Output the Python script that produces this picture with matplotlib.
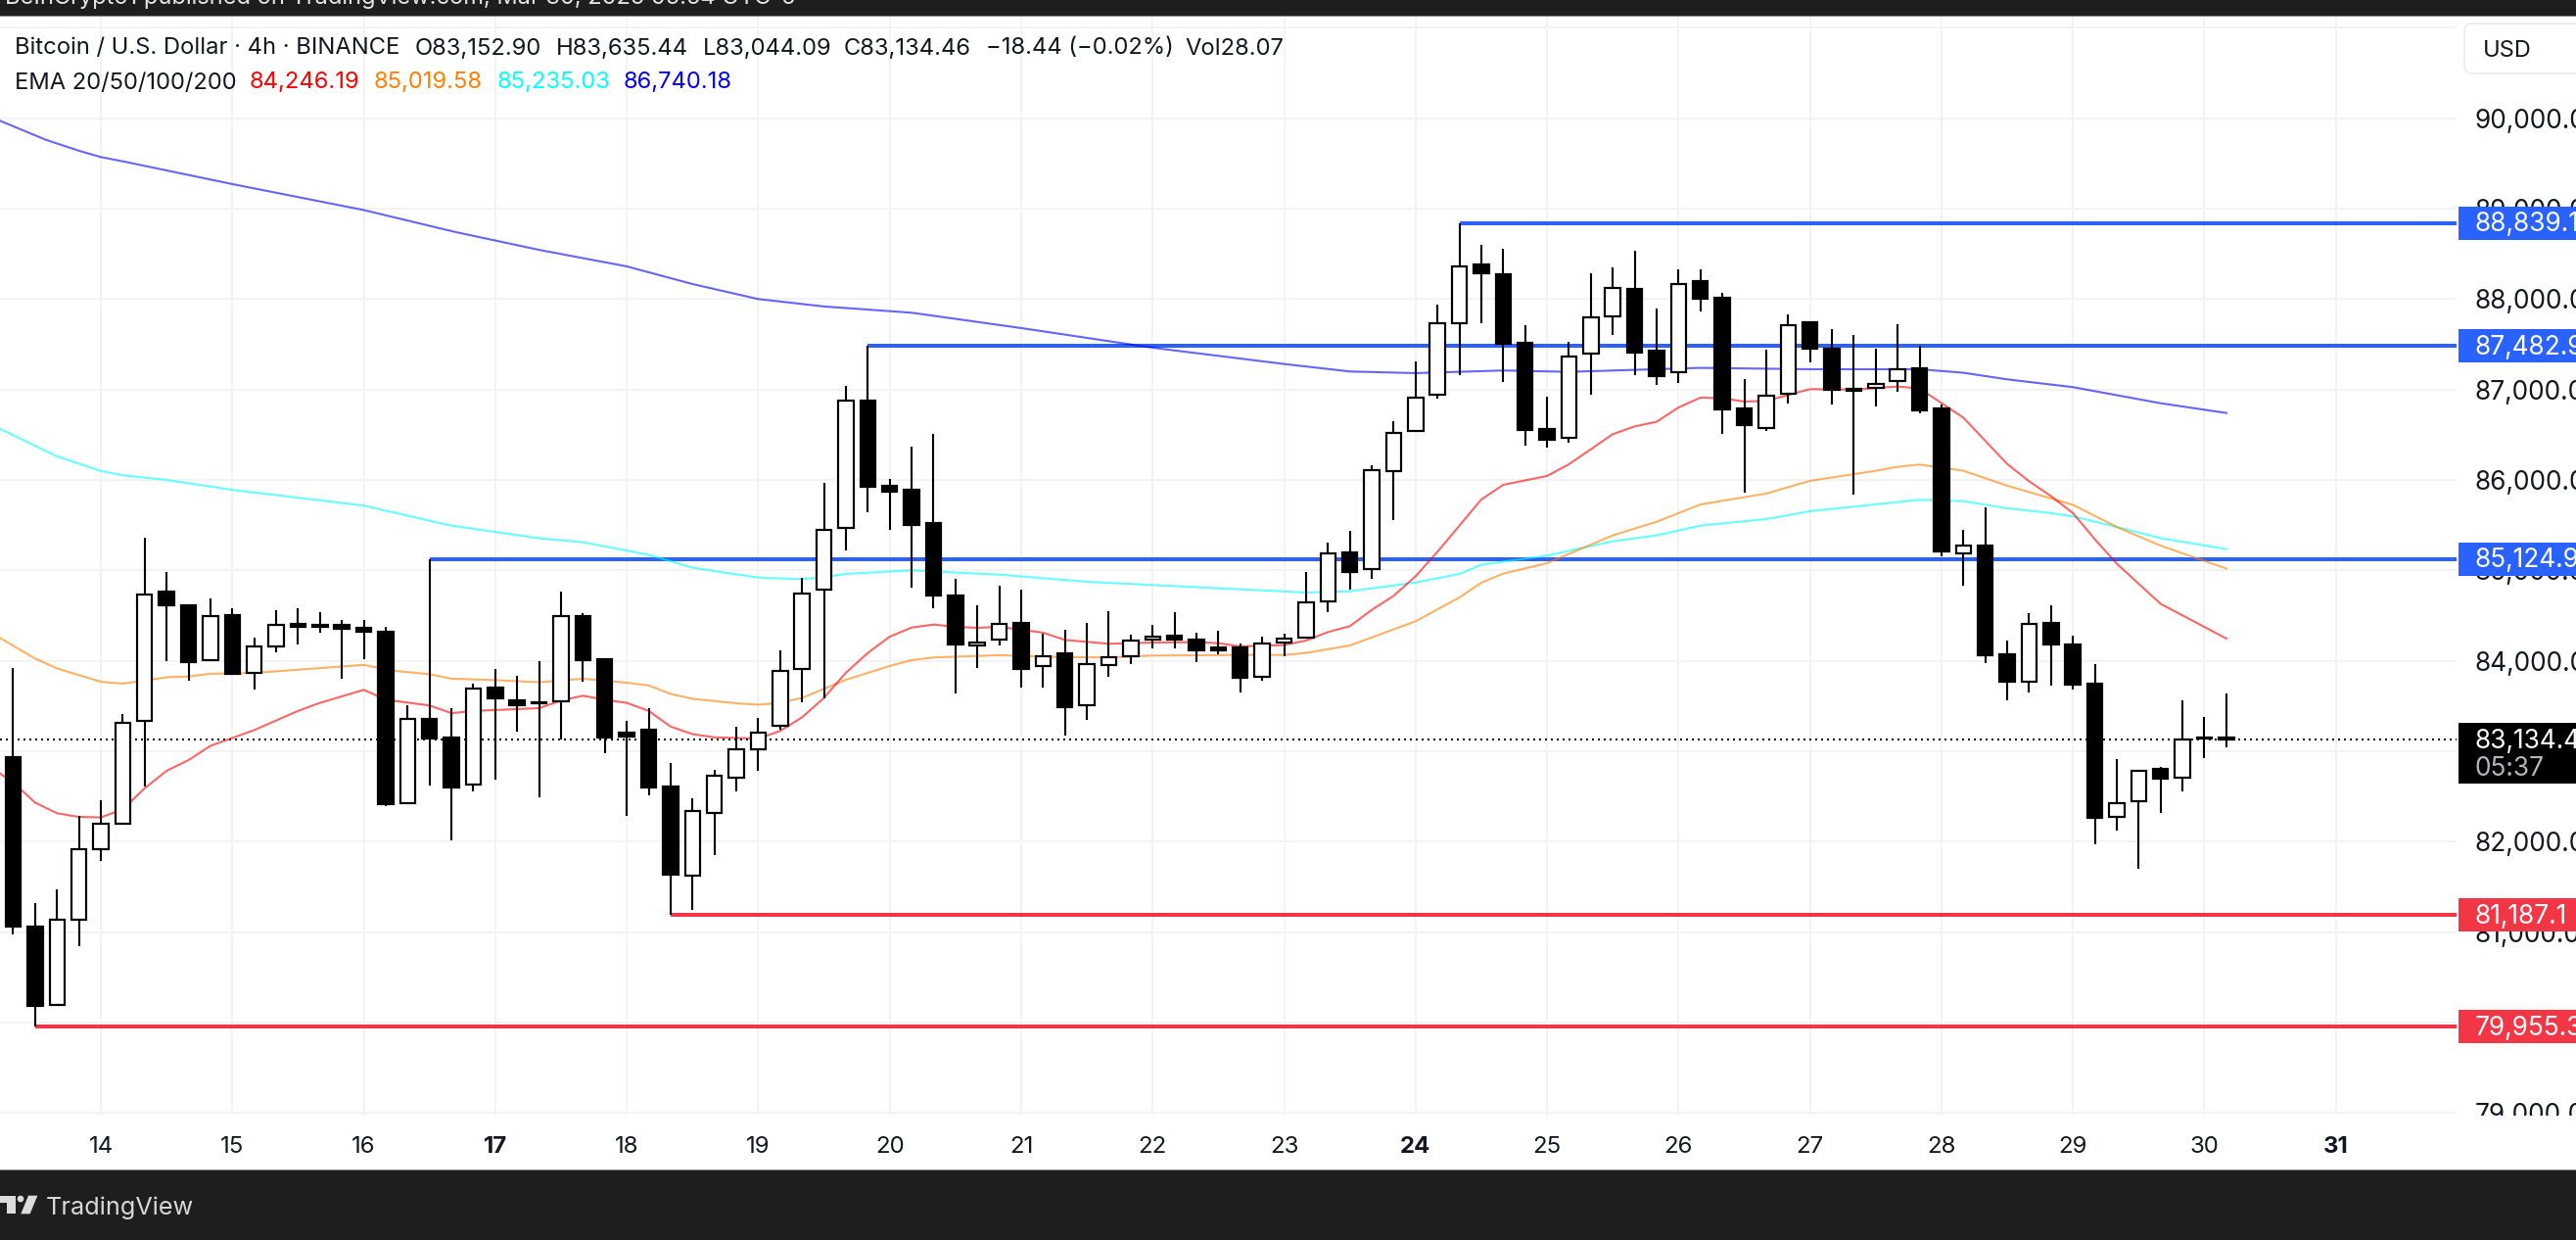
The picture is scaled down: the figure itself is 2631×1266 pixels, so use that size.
import numpy as np
import matplotlib
matplotlib.use("Agg")
import matplotlib.pyplot as plt
from matplotlib.patches import Rectangle, Polygon, Circle, FancyBboxPatch

plt.rcParams['font.family'] = ['Inter', 'DejaVu Sans']

# ---------- data ----------
candle_pos = list(range(-4, 98))   # 4h candles, 0 = 14 March 00:00
opens = [82937,81058,80192,81137,81918,82200,83332,84766,84618,84005,84504,83866,84163,84405,84396,84396,84366,84321,82423,83352,83150,82630,83703,83565,83545,83550,84495,84020,83204,83238,82610,81621,82319,82704,83021,83283,83911,84784,85470,86874,85932,85888,85520,84719,84166,84235,84415,83943,84080,83506,83953,84051,84231,84275,84231,84145,84145,83823,84199,84257,84657,85195,85015,86094,86542,86939,87733,88383,88275,87513,86560,86462,87394,87805,88112,87430,87192,88199,88015,86791,86571,86953,87744,87451,87008,87018,87091,87235,86791,85184,85275,84070,83768,84419,84178,83747,82272,82446,82806,82703,83140,83152.90]
highs = [83916,81320,81478,82284,82457,83412,85360,84984,84623,84687,84584,84252,84559,84584,84539,84455,84450,84371,83510,85125,83481,83743,83911,83832,83995,84766,84524,84025,83337,83481,82873,82482,82798,83273,83367,84114,84915,85964,87036,87483,86011,86368,86506,84906,84614,84831,84787,84304,84343,84419,84549,84286,84397,84538,84311,84332,84188,84267,84300,84982,85307,85434,86159,86650,87311,87939,88839,88599,88556,87711,86921,87527,88285,88350,88535,87896,88329,88329,88069,87116,87441,87831,87755,87668,87603,87451,87722,87484,86831,85448,85697,84224,84526,84613,84278,83963,82914,82794,82823,83561,83378,83635.44]
lows = [80974,79955,80188,80840,81790,82200,82606,84000,83777,84005,83857,83679,84099,84178,84312,83802,84020,82398,82423,82625,82012,82556,82685,83219,82492,83130,83768,82976,82284,82512,81187,81246,81854,82556,82784,83234,83540,83589,85220,85647,85452,84813,84585,83643,83925,84170,83708,83708,83177,83351,83827,83968,84138,84138,83986,84073,83654,83780,84051,84257,84538,84787,84906,85560,86542,86903,87163,87733,87083,86379,86358,86415,86946,87603,87163,87051,87072,87863,86509,85859,86542,86845,87300,86834,85838,86813,86975,86737,85156,84831,83975,83561,83648,83731,83681,81969,82122,81704,82317,82553,82922,83044.09]
closes = [81058,80188,81132,81913,82195,83318,84737,84618,83990,84499,83857,84163,84401,84371,84371,84356,84316,82418,83352,83140,82601,83698,83585,83510,83530,84490,84005,83150,83164,82601,81631,82334,82724,83026,83209,83891,84747,85452,86874,85928,85874,85506,84726,84184,84206,84412,83914,84055,83491,83968,84044,84228,84271,84239,84120,84120,83816,84195,84249,84650,85192,84986,86109,86524,86914,87733,88365,88289,87506,86556,86448,87368,87802,88127,87412,87152,88170,88007,86780,86607,86935,87715,87455,86997,86989,87065,87228,86769,85213,85278,84065,83764,84410,84178,83739,82267,82429,82786,82699,83134,83153,83134.46]

ema20_x = [-4.6,-4,-3,-2,-1,0,1,2,3,4,5,7,9,10,12,13,15,16,17,20,21,22,23,24,25,26,27,28,30,31,32,33,34,35,36,37,38,39,40,41,43,44,46,48,50,51,52,54,55,56,57,58,59,60,61,62,63,64,66,67,69,70,71,72,73,74,75,76,77,78,80,82,83,85,87,88,89,90,91,92,94,97]
ema20_y = [82754,82655,82432,82314,82274,82269,82358,82591,82784,82902,83060,83234,83446,83535,83679,83570,83506,83421,83446,83476,83560,83614,83570,83535,83446,83273,83189,83154,83140,83224,83375,83590,83868,84087,84267,84368,84401,84376,84365,84376,84311,84231,84188,84202,84206,84195,84159,84174,84224,84318,84383,84563,84719,84935,85206,85495,85784,85946,86044,86174,86506,86592,86643,86802,86910,86903,86867,86874,86939,87004,87000,87033,87011,86688,86176,85985,85820,85633,85343,85074,84630,84246.19]
ema50_x = [-4.6,-3,-2,0,1,3,4,5,7,12,13.3,15,16,18,20,22,24,25,26,27,29,30,31,32,33,34,36,37,38,41,44,46,48,52,54,55,57,60,62,63,64,66,69,71,73,76,78,81,82,83,85,87,90,92,94,97]
ema50_y = [84252,84025,83916,83768,83748,83817,83827,83857,83866,83955,83891,83852,83802,83787,83763,83802,83758,83728,83634,83580,83530,83515,83535,83590,83690,83790,83943,84008,84037,84062,84040,84037,84058,84065,84065,84087,84170,84437,84701,84863,84964,85080,85387,85538,85729,85849,85990,86101,86145,86170,86101,85936,85724,85480,85273,85019.58]
ema100_x = [-4.6,-2,0,1,3,6,12,15.9,20,22,25,27,30,32,33,34,37,41,45,48,52,55,57,60,62,63,66,69,71,73,76,78,81,83,85,87,89,90,92,94,97]
ema100_y = [86564,86260,86099,86051,86000,85890,85716,85498,85355,85311,85172,85029,84920,84902,84925,84961,85000,84953,84874,84838,84791,84755,84769,84866,84961,85062,85163,85322,85387,85495,85567,85654,85730,85780,85765,85687,85633,85596,85480,85356,85235.03]
ema200_x = [-4.6,-2.5,-1,0,1,6,12,16.2,20,24,27,30,33,37,42,48,54,57,60,64,67,73,78,83,85,87,90,94,97]
ema200_y = [89971,89760,89640,89570,89523,89271,88984,88740,88544,88361,88166,88000,87918,87849,87679,87462,87282,87199,87181,87210,87195,87239,87224,87224,87185,87112,87026,86848,86740.18]

level_prices = [88839.1, 87482.9, 85124.9, 81187.1, 79955.3]
level_start = [62, 35, 15, 26, -3]
level_colors = ['#2962ff', '#2962ff', '#2962ff', '#f23645', '#f23645']
level_labels = ['88,839.1', '87,482.9', '85,124.9', '81,187.1', '79,955.3']

price_ticks = [91000, 90000, 89000, 88000, 87000, 86000, 85000, 84000, 83000, 82000, 81000, 80000, 79000]
day_positions = list(range(0, 103, 6))
day_labels = ['14','15','16','17','18','19','20','21','22','23','24','25','26','27','28','29','30','31']
bold_days = ['17', '24', '31']
last_price = 83134.46
last_label = '83,134.4'

# ---------- layout ----------
W, H = 2631, 1266
PX = 72 / 100
fig = plt.figure(figsize=(W / 100, H / 100), dpi=100, facecolor='white')
GRID = '#f2f3f4'
INK = '#131722'
DARK = '#1e1e1e'

def fx(x): return x / W
def fy(y): return 1 - y / H

PANE_R, PANE_T, PANE_B = 2509, 16, 1139
SCALE = 10.83        # price units per pixel
YTOP = 83000 + (767 - PANE_T) * SCALE
YBOT = 83000 + (767 - PANE_B) * SCALE

ax = fig.add_axes([0, fy(PANE_B), fx(PANE_R), (PANE_B - PANE_T) / H])
ax.set_xlim(-103 / 22.38, (PANE_R - 103) / 22.38)
ax.set_ylim(YBOT, YTOP)
for s in ax.spines.values():
    s.set_visible(False)
ax.set_yticks(price_ticks)
ax.set_yticklabels([])
ax.set_xticks(day_positions)
ax.set_xticklabels(day_labels, fontsize=17.3, color=INK)
for t in ax.get_xticklabels():
    if t.get_text() in bold_days:
        t.set_fontweight('bold')
ax.tick_params(axis='both', length=0)
ax.tick_params(axis='x', pad=15)
ax.grid(True, color=GRID, lw=2 * PX)
ax.set_axisbelow(True)

# level lines and last price line
for p, s, c in zip(level_prices, level_start, level_colors):
    ax.hlines(p, s, ax.get_xlim()[1], color=c, lw=4 * PX, zorder=2, capstyle='butt')
ax.axhline(last_price, color='black', lw=2 * PX, ls=(0, (1, 2)), zorder=2)

# EMAs
for xs, ys, c in [(ema200_x, ema200_y, '#0000ff'), (ema100_x, ema100_y, '#00ffff'),
                  (ema50_x, ema50_y, '#ff8000'), (ema20_x, ema20_y, '#ff0000')]:
    ax.plot(xs, ys, color=c, alpha=0.6, lw=2.1 * PX, zorder=3, solid_joinstyle='round')

# candles
pos = np.array(candle_pos, float)
o, h, l, c = map(np.array, (opens, highs, lows, closes))
up = c >= o
ax.vlines(pos, l, h, color='black', lw=2.1 * PX, zorder=4)
ax.bar(pos[up], (c - o)[up], bottom=o[up], width=0.69, facecolor='white',
       edgecolor='black', linewidth=2.2 * PX, zorder=5)
ax.bar(pos[~up], (c - o)[~up], bottom=o[~up], width=0.69, facecolor='black',
       edgecolor='black', linewidth=2.2 * PX, zorder=5)

# price scale
PFS = 18.9
ax2 = fig.add_axes([fx(PANE_R), fy(PANE_B), 1 - fx(PANE_R), (PANE_B - PANE_T) / H])
ax2.set_xlim(PANE_R, W)
ax2.set_ylim(YBOT, YTOP)
ax2.axis('off')
ax2.patch.set_visible(False)
for p in price_ticks[1:]:
    ax2.text(2528, p, f'{p:,.1f}', fontsize=PFS, color=INK, va='center_baseline', ha='left',
             clip_on=True, zorder=2)
tag_h = 34 * SCALE
for p, lab, col in zip(level_prices, level_labels, level_colors):
    ax2.add_patch(Rectangle((2511, p - tag_h / 2), W - 2511, tag_h, color=col, lw=0, zorder=3))
    ax2.text(2528, p + 1.5 * SCALE, lab, fontsize=PFS, color='white', va='center_baseline', ha='left',
             zorder=4, clip_on=True)
ax2.add_patch(Rectangle((2511, 83000 + (767 - 800) * SCALE), W - 2511, 62 * SCALE,
                        color='black', lw=0, zorder=3))
ax2.text(2528, 83000 + (767 - 754) * SCALE, last_label, fontsize=PFS, color='white',
         va='center_baseline', ha='left', zorder=4, clip_on=True)
ax2.text(2528, 83000 + (767 - 782) * SCALE, '05:37', fontsize=PFS, color='#b2b5be',
         va='center_baseline', ha='left', zorder=4, clip_on=True)

# header, footer
fig.add_artist(Rectangle((0, fy(16)), 1, 16 / H, transform=fig.transFigure, color=DARK, lw=0))
fig.add_artist(Rectangle((0, fy(17)), 1, 1 / H, transform=fig.transFigure, color='#8a8a8a', lw=0))
fig.add_artist(Rectangle((0, 0), 1, fy(1195), transform=fig.transFigure, color=DARK, lw=0))
fig.add_artist(Rectangle((0, fy(1195)), 1, 1.5 / H, transform=fig.transFigure, color='#8a8a8a', lw=0))
fig.text(fx(5), fy(4), 'BeInCrypto1 published on TradingView.com, Mar 30, 2025 05:54 UTC-5',
         fontsize=17, color='#e4e4e4', va='baseline', ha='left')

# TradingView logo
LOGO = '#dcdcdc'
def pts(*p):
    return [(fx(a / 3), fy(1205 + b / 3)) for a, b in p]
fig.add_artist(Polygon(pts((0, 47), (47, 47), (47, 103), (21, 103), (21, 68), (0, 68)),
                       closed=True, transform=fig.transFigure, color=LOGO, lw=0))
fig.add_artist(Polygon(pts((87, 47), (115, 47), (92, 103), (64, 103)),
                       closed=True, transform=fig.transFigure, color=LOGO, lw=0))
t_dot = Circle((63 / 3, H - (1205 + 57 / 3)), 10 / 3, transform=None, color=LOGO, lw=0)
fig.add_artist(t_dot)
fig.text(fx(46.5), fy(1240), 'TradingView', fontsize=18.2, color='#d8d8d8', va='baseline', ha='left')

# USD box
fig.add_artist(FancyBboxPatch((fx(2517), fy(75)), 0.06, 51 / H, transform=fig.transFigure,
                              boxstyle='round,pad=0,rounding_size=0.003', mutation_aspect=W / H,
                              facecolor='white', edgecolor='#eceef2', lw=1.5))
fig.text(fx(2536), fy(50), 'USD', fontsize=17, color=INK, va='center_baseline', ha='left')

# legend rows
row1 = [(15, 'Bitcoin / U.S. Dollar · 4h · BINANCE'), (424, 'O83,152.90'), (568, 'H83,635.44'),
        (718, 'L83,044.09'), (862, 'C83,134.46'), (1007, '−18.44 (−0.02%)'), (1210, 'Vol28.07')]
for x, s in row1:
    fig.text(fx(x), fy(47), s, fontsize=17.1, color=INK, va='center_baseline', ha='left')
row2 = [(15, 'EMA 20/50/100/200', INK), (255, '84,246.19', '#ff0000'), (382, '85,019.58', '#ff8000'),
        (508, '85,235.03', '#00ffff'), (637, '86,740.18', '#0000ff')]
for x, s, col in row2:
    fig.text(fx(x), fy(82), s, fontsize=17.1, color=col, va='center_baseline', ha='left')

fig.savefig('out.png', dpi=100, facecolor='white')
